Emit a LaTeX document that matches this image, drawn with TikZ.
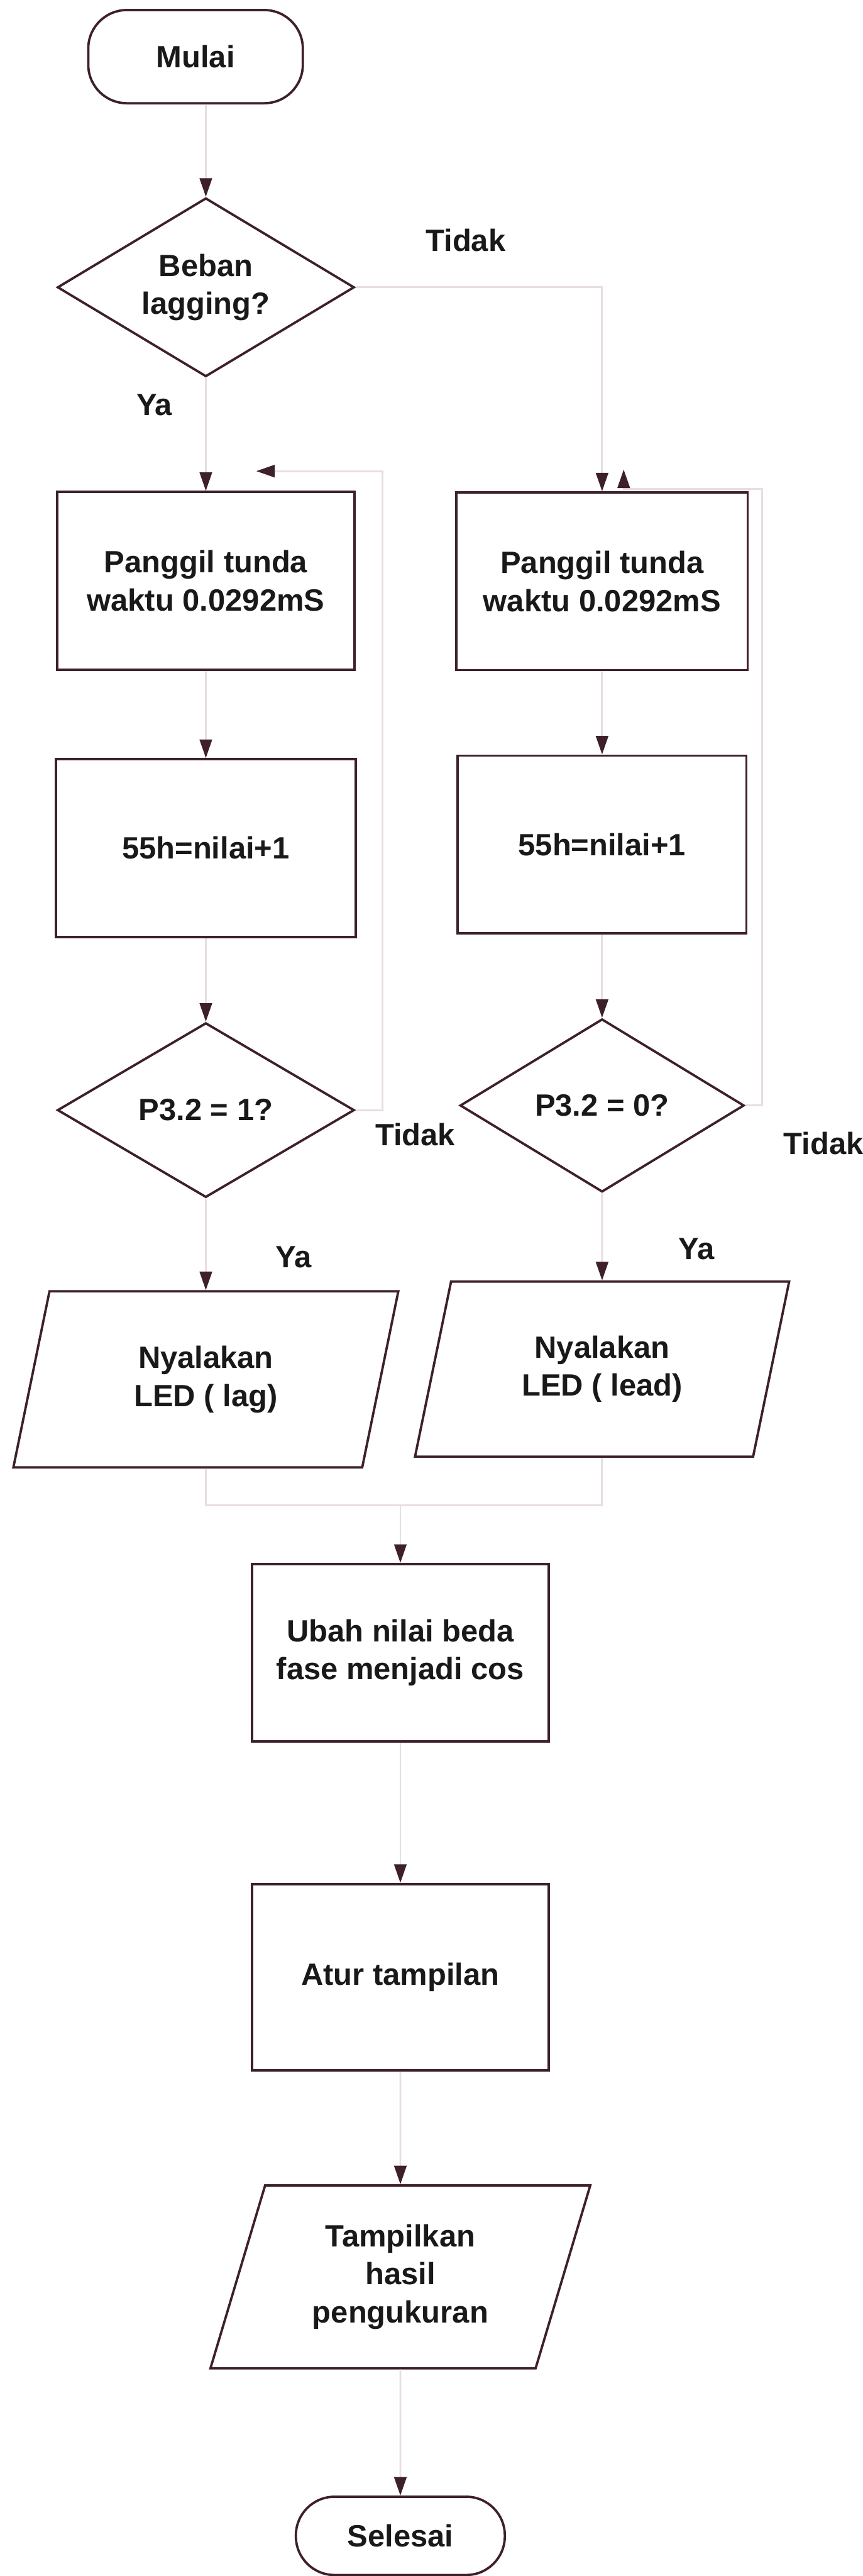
\documentclass[tikz,border=0pt]{standalone}
\usepackage{fontspec}
\setmainfont{Liberation Sans}
\usetikzlibrary{shapes.geometric, arrows.meta}

\definecolor{ink}{RGB}{62,32,42}
\definecolor{faint}{RGB}{232,222,225}

\begin{document}
\begin{tikzpicture}[
    every node/.style={font=\bfseries\fontsize{17}{21}\selectfont, align=center, text=black!90},
    proses/.style={draw=ink, line width=1.3pt, rectangle, inner sep=2pt, minimum width=5.77cm, minimum height=3.45cm},
    keputusan/.style={draw=ink, line width=1.3pt, diamond, aspect=1.7, inner sep=1pt, minimum width=5.77cm, minimum height=3.4cm},
    masukan/.style={draw=ink, line width=1.3pt, trapezium, trapezium left angle=64, trapezium right angle=116, trapezium stretches body=true, inner sep=2pt, minimum width=7.48cm, minimum height=3.42cm},
    terminal/.style={draw=ink, line width=1.3pt, rectangle, rounded corners=0.75cm, minimum width=4.1cm, minimum height=1.7cm},
    alur/.style={draw=faint, line width=1pt, -{Triangle[width=2.4mm, length=3.6mm, color=ink]}},
    garis/.style={draw=faint, line width=1pt}
]
    \useasboundingbox (0,0) rectangle (16.77,-50.03);

    % Start and first decision
    \node[terminal, minimum width=4.17cm, minimum height=1.81cm] (mulai) at (3.80,-1.10) {Mulai};
    \node[keputusan, minimum height=3.47cm] (beban) at (4.00,-5.58) {Beban\\lagging?};
    \node (tidakA) at (9.05,-4.66) {Tidak};
    \node (yaA) at (3.00,-7.86) {Ya};

    % Lagging branch (left)
    \node[proses] (tundaL) at (4.00,-11.28) {Panggil tunda\\waktu 0.0292mS};
    \node[proses, minimum width=5.83cm] (nilaiL) at (4.00,-16.47) {55h=nilai+1};
    \node[keputusan, minimum height=3.39cm] (cekL) at (4.00,-21.56) {P3.2 = 1?};
    \node[masukan] (ledL) at (4.00,-26.79) {Nyalakan\\LED ( lag)};
    \node (tidakB) at (8.07,-22.03) {Tidak};
    \node (yaB) at (5.70,-24.41) {Ya};

    % Leading branch (right)
    \node[proses, minimum width=5.66cm] (tundaR) at (11.70,-11.29) {Panggil tunda\\waktu 0.0292mS};
    \node[proses, minimum width=5.61cm] (nilaiR) at (11.70,-16.40) {55h=nilai+1};
    \node[keputusan, minimum width=5.52cm, minimum height=3.36cm] (cekR) at (11.70,-21.47) {P3.2 = 0?};
    \node[masukan, minimum width=7.27cm, minimum height=3.40cm] (ledR) at (11.70,-26.59) {Nyalakan\\LED ( lead)};
    \node (tidakC) at (16.00,-22.21) {Tidak};
    \node (yaC) at (13.53,-24.26) {Ya};

    % Common part
    \node[proses] (ubah) at (7.78,-32.10) {Ubah nilai beda\\fase menjadi cos};
    \node[proses, minimum height=3.62cm] (atur) at (7.78,-38.40) {Atur tampilan};
    \node[masukan, minimum width=7.38cm, minimum height=3.55cm] (hasil) at (7.78,-44.22) {Tampilkan\\hasil\\pengukuran};
    \node[terminal, minimum width=4.06cm, minimum height=1.52cm] (selesai) at (7.78,-49.25) {Selesai};

    % Helper points
    \coordinate (balikL) at (4.98,-9.15);
    \coordinate (balikR) at (12.12,-9.12);
    \coordinate (gabung) at (7.78,-29.23);

    % Flow lines
    \draw[alur] (beban.north |- mulai.south) -- (beban.north);
    \draw[alur] (beban) -- (tundaL);
    \draw[alur] (beban.east) -| (tundaR.north);
    \draw[alur] (tundaL) -- (nilaiL);
    \draw[alur] (nilaiL) -- (cekL);
    \draw[alur] (cekL) -- (ledL);
    \draw[alur] (tundaR) -- (nilaiR);
    \draw[alur] (nilaiR) -- (cekR);
    \draw[alur] (cekR) -- (ledR);
    \draw[alur] (cekL.east) -- ++(0.52,0) |- (balikL);
    \draw[alur] (cekR.east) -- ++(0.33,0) |- ([yshift=-3.8mm]balikR) -- (balikR);
    \draw[garis] (ledL.south) |- (gabung);
    \draw[garis] (ledR.south) |- (gabung);
    \draw[alur] (gabung) -- (ubah);
    \draw[alur] (ubah) -- (atur);
    \draw[alur] (atur) -- (hasil);
    \draw[alur] (hasil) -- (selesai);
\end{tikzpicture}
\end{document}
